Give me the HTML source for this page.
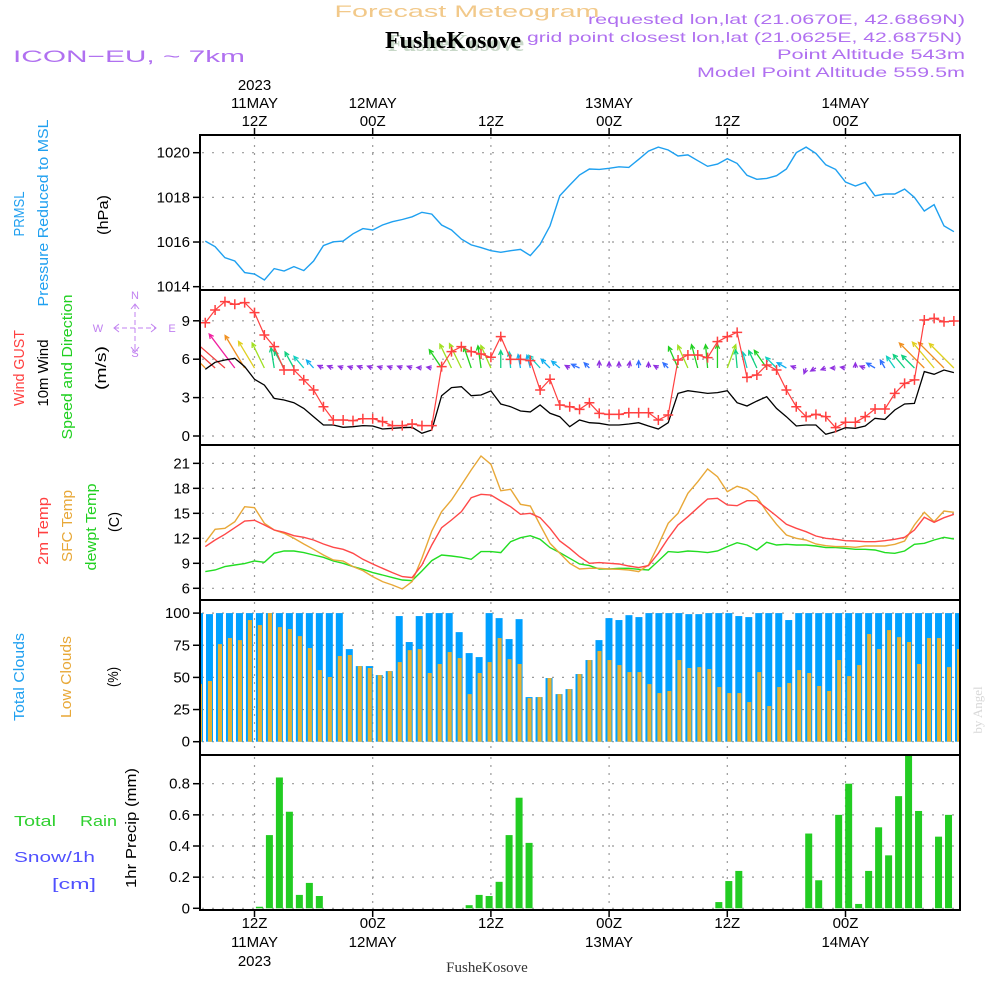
<!DOCTYPE html>
<html><head><meta charset="utf-8"><style>
html,body{margin:0;padding:0;background:#fff;}
svg{display:block;font-family:"Liberation Sans",sans-serif;}
</style></head><body>
<svg id="chart" width="1000" height="1000" viewBox="0 0 1000 1000" xmlns="http://www.w3.org/2000/svg">
<defs>
<clipPath id="clipP"><rect x="201" y="136" width="758" height="153"/></clipPath>
<clipPath id="clipW"><rect x="201" y="291" width="758" height="153"/></clipPath>
<clipPath id="clipT"><rect x="201" y="446" width="758" height="153"/></clipPath>
<clipPath id="clipC"><rect x="201" y="601" width="758" height="153"/></clipPath>
<clipPath id="clipR"><rect x="201" y="756" width="758" height="153"/></clipPath>
</defs>
<g>
<text x="467" y="17" font-size="17" fill="#f2c98a" text-anchor="middle" textLength="265" lengthAdjust="spacingAndGlyphs">Forecast Meteogram</text>
<text x="456" y="51" font-size="24" font-weight="bold" fill="#c8d8c8" text-anchor="middle" font-family="Liberation Serif,serif">FusheKosove</text>
<text x="453" y="48" font-size="24" font-weight="bold" fill="#000" text-anchor="middle" font-family="Liberation Serif,serif">FusheKosove</text>
<text x="13" y="62" font-size="17" fill="#b070f0" textLength="232" lengthAdjust="spacingAndGlyphs">ICON−EU, ~ 7km</text>
<text x="965" y="24" font-size="14" fill="#b070f0" text-anchor="end" textLength="377" lengthAdjust="spacingAndGlyphs">requested lon,lat (21.0670E, 42.6869N)</text>
<text x="962" y="42" font-size="14" fill="#b070f0" text-anchor="end" textLength="435" lengthAdjust="spacingAndGlyphs">grid point closest lon,lat (21.0625E, 42.6875N)</text>
<text x="965" y="59" font-size="14" fill="#b070f0" text-anchor="end" textLength="188" lengthAdjust="spacingAndGlyphs">Point Altitude 543m</text>
<text x="965" y="77" font-size="14" fill="#b070f0" text-anchor="end" textLength="268" lengthAdjust="spacingAndGlyphs">Model Point Altitude 559.5m</text>
</g>
<g id="axisLabels" font-size="15">
<text transform="translate(24,214) rotate(-90)" text-anchor="middle" fill="#20a0f0" textLength="45" lengthAdjust="spacingAndGlyphs">PRMSL</text>
<text transform="translate(48,213) rotate(-90)" text-anchor="middle" fill="#20a0f0" textLength="187" lengthAdjust="spacingAndGlyphs">Pressure Reduced to MSL</text>
<text transform="translate(108,215) rotate(-90)" text-anchor="middle" fill="#000" textLength="40" lengthAdjust="spacingAndGlyphs">(hPa)</text>
<text transform="translate(24,368) rotate(-90)" text-anchor="middle" fill="#ff4040" textLength="76" lengthAdjust="spacingAndGlyphs">Wind GUST</text>
<text transform="translate(48,373) rotate(-90)" text-anchor="middle" fill="#000" textLength="67" lengthAdjust="spacingAndGlyphs">10m Wind</text>
<text transform="translate(72,367) rotate(-90)" text-anchor="middle" fill="#20d020" textLength="145" lengthAdjust="spacingAndGlyphs">Speed and Direction</text>
<text transform="translate(106,368) rotate(-90)" text-anchor="middle" fill="#000" textLength="44" lengthAdjust="spacingAndGlyphs">(m/s)</text>
<text transform="translate(48,531) rotate(-90)" text-anchor="middle" fill="#ff4040" textLength="68" lengthAdjust="spacingAndGlyphs">2m Temp</text>
<text transform="translate(72,526) rotate(-90)" text-anchor="middle" fill="#e8a838" textLength="72" lengthAdjust="spacingAndGlyphs">SFC Temp</text>
<text transform="translate(96,527) rotate(-90)" text-anchor="middle" fill="#20d020" textLength="87" lengthAdjust="spacingAndGlyphs">dewpt Temp</text>
<text transform="translate(119,522) rotate(-90)" text-anchor="middle" fill="#000" textLength="20" lengthAdjust="spacingAndGlyphs">(C)</text>
<text transform="translate(24,677) rotate(-90)" text-anchor="middle" fill="#20a0f0" textLength="88" lengthAdjust="spacingAndGlyphs">Total Clouds</text>
<text transform="translate(71,677) rotate(-90)" text-anchor="middle" fill="#e8a838" textLength="82" lengthAdjust="spacingAndGlyphs">Low Clouds</text>
<text transform="translate(118,677) rotate(-90)" text-anchor="middle" fill="#000" textLength="20" lengthAdjust="spacingAndGlyphs">(%)</text>
<text transform="translate(136,828) rotate(-90)" text-anchor="middle" fill="#000" textLength="120" lengthAdjust="spacingAndGlyphs">1hr Precip (mm)</text>
<text x="14" y="826" fill="#30d030" textLength="42" lengthAdjust="spacingAndGlyphs" font-size="15">Total</text>
<text x="80" y="826" fill="#30d030" textLength="37" lengthAdjust="spacingAndGlyphs" font-size="15">Rain</text>
<text x="14" y="862" fill="#5050ff" textLength="81" lengthAdjust="spacingAndGlyphs" font-size="15">Snow/1h</text>
<text x="52" y="889" fill="#5050ff" textLength="44" lengthAdjust="spacingAndGlyphs" font-size="15">[cm]</text>
<text transform="translate(982,710) rotate(-90)" text-anchor="middle" fill="#d8d8d8" font-size="13" font-family="Liberation Serif,serif">by Angel</text>
<text x="487" y="972" text-anchor="middle" fill="#333" font-size="15" font-family="Liberation Serif,serif">FusheKosove</text>
</g>
<g fill="#c080f0" stroke="#c080f0" font-size="11">
<text x="135" y="299" text-anchor="middle" stroke="none">N</text>
<text x="135" y="357" text-anchor="middle" stroke="none">S</text>
<text x="98" y="332" text-anchor="middle" stroke="none">W</text>
<text x="172" y="332" text-anchor="middle" stroke="none">E</text>
<path d="M135 304 V352 M114 328 H156" fill="none" stroke-dasharray="5 3" stroke-width="1"/>
<path d="M131 309 L135 304 L139 309 M119 324 L114 328 L119 332 M151 324 L156 328 L151 332 M131 347 L135 352 L139 347" fill="none" stroke-width="1"/>
</g>
<g id="grid"></g>
<g id="marks"></g>
<g id="frames"></g>
<g id="ticks" font-size="15"></g>
</svg>
<script>
const pressure=[1016.04,1015.79,1015.30,1015.15,1014.63,1014.57,1014.30,1014.81,1014.70,1014.90,1014.72,1015.15,1015.84,1016.01,1016.04,1016.37,1016.60,1016.54,1016.76,1016.91,1017.01,1017.13,1017.33,1017.25,1016.76,1016.54,1016.13,1015.87,1015.75,1015.61,1015.54,1015.61,1015.67,1015.39,1015.90,1016.72,1018.07,1018.55,1019.0,
1019.27,1019.25,1019.30,1019.37,1019.34,1019.70,1020.07,1020.25,1020.12,1019.85,1019.90,1019.64,1019.39,1019.49,1019.73,1019.52,1018.99,1018.81,1018.85,1018.97,1019.27,1020.0,1020.25,1019.97,1019.46,1019.25,1018.69,1018.51,1018.67,1018.07,1018.15,1018.15,1018.37,1018.0,1017.39,1017.67,1016.72,1016.46];
const gust=[8.85,9.84,10.5,10.29,10.42,9.64,7.89,6.98,5.16,5.16,4.38,3.59,2.29,1.25,1.25,1.2,1.35,1.35,1.12,0.81,0.81,0.94,0.81,0.81,5.42,6.59,6.98,6.59,6.41,6.15,7.76,5.99,5.99,5.89,3.59,4.43,2.42,2.29,2.08,
2.6,1.77,1.69,1.69,1.82,1.82,1.82,1.25,1.64,5.94,6.33,6.33,6.12,7.37,7.76,8.1,4.58,4.77,5.55,5.16,3.59,2.29,1.51,1.69,1.51,0.65,1.07,1.07,1.51,2.11,2.11,3.33,4.11,4.38,9.06,9.19,8.93,8.98];
const wind=[5.21,5.76,5.94,6.07,5.42,4.43,3.98,2.94,2.81,2.60,2.16,1.51,0.86,0.86,0.68,0.73,0.81,0.78,0.55,0.6,0.65,0.68,0.21,0.47,3.15,3.78,3.85,3.15,3.2,3.52,2.5,2.29,1.95,1.88,2.42,1.77,1.51,0.73,1.25,
1.04,0.99,0.86,0.86,0.94,1.04,0.78,0.55,1.04,3.33,3.54,3.44,3.33,3.39,3.54,2.6,2.34,2.73,3.07,2.16,1.51,0.78,0.86,0.86,0.13,0.34,0.65,0.6,0.78,1.38,1.3,2.03,2.5,2.55,5.03,4.82,5.16,4.95];
const windDir=[315,312,311,323,329,329,334,351,330,331,320,318,
295,290,290,288,290,290,288,290,292,290,275,280,
326,334,334,341,352,336,0,355,350,345,318,315,310,300,295,
315,0,0,0,10,0,0,300,315,336,336,345,355,0,20,355,345,335,325,315,300,290,200,240,250,270,280,0,290,300,330,325,320,315,315,320,315,315];
const temp2m=[11.0,11.8,12.48,13.28,14.08,14.16,13.6,13.0,12.72,12.32,12.12,11.8,11.32,10.92,10.68,10.2,9.48,8.92,8.4,7.88,7.4,7.28,8.8,11.2,13.28,14.2,15.2,16.88,17.28,17.2,16.48,15.8,14.88,15.0,14.48,13.2,11.68,10.8,9.8,
9.0,9.08,9.0,8.92,8.68,8.48,8.72,10.2,12.0,13.6,14.6,15.68,16.72,16.8,16.0,15.92,16.52,16.52,15.6,14.68,13.68,13.2,12.8,12.28,12.0,11.88,11.72,11.68,11.6,11.6,11.72,11.88,12.12,13.0,14.52,13.92,14.48,14.88];
const tempSfc=[11.52,13.08,13.2,14.0,15.8,15.68,13.8,13.0,12.6,12.0,11.32,10.68,10.0,9.4,9.28,8.6,8.12,7.4,6.8,6.4,5.92,6.8,9.6,12.88,15.2,16.6,18.4,20.2,21.88,20.88,17.72,17.88,16.08,15.88,13.6,11.4,10.2,9.0,8.32,
8.4,8.4,8.32,8.28,8.2,8.0,8.8,11.2,13.8,15.0,17.4,18.8,20.32,19.4,17.6,18.24,17.88,17.0,15.2,13.68,12.4,12.0,11.8,11.32,11.12,11.0,11.0,10.92,11.08,11.08,11.08,11.28,11.68,13.6,15.12,14.0,15.28,15.12];
const dewpt=[8.0,8.2,8.6,8.8,8.96,9.28,9.12,10.2,10.48,10.48,10.28,10.0,9.72,9.28,9.0,8.6,8.28,7.88,7.6,7.28,7.0,6.92,8.08,9.32,10.0,9.88,9.72,9.48,10.4,10.4,10.28,11.6,12.08,12.32,11.88,10.88,10.28,9.6,8.92,
8.72,8.32,8.32,8.4,8.4,8.28,8.2,9.28,10.4,10.32,10.48,10.4,10.28,10.48,11.0,11.48,11.2,10.6,11.52,11.2,11.28,11.2,11.2,11.08,10.88,10.88,10.8,10.68,10.68,10.6,10.28,10.2,10.48,11.28,11.4,11.8,12.12,11.92];
const totalClouds=[100,99.2,100,100,100,100,100,100,100,100,100,100,100,100,100,72.0,58.8,58.8,51.8,54.9,97.7,77.5,97.7,100,100,100,85.2,68.9,65.8,100,96.1,79.8,95.3,34.7,34.7,49.5,37.0,40.9,52.6,
63.5,79.0,96.1,94.6,98.4,96.9,100,100,100,100,99.2,99.2,100,100,100,97.7,96.9,100,100,100,94.6,100,100,100,100,100,100,100,100,100,100,100,100,100,100,100,100,100];
const lowClouds=[44.8,47.2,75.9,80.6,79.0,94.6,90.7,100,89.1,87.6,82.1,72.8,55.7,50.3,66.6,67.4,58.8,57.3,51.8,54.9,61.9,71.2,72.0,53.4,60.4,69.7,65.0,37.0,53.4,61.9,80.6,64.2,60.4,33.9,34.7,49.5,37.0,40.9,52.6,
63.5,70.5,63.5,59.6,54.1,54.1,44.8,37.8,39.4,63.5,57.3,58.0,56.5,42.5,37.8,37.8,30.8,54.1,27.7,42.5,45.6,55.7,53.4,43.3,39.4,63.5,51.0,59.6,83.7,72.0,86.8,81.3,77.5,60.4,80.6,80.6,58.0,72.0];
const precip=[0,0,0,0,0,0,0.01,0.47,0.84,0.62,0.086,0.163,0.079,0,0,0,0,0,0,0,0,0,0,0,0,0,0,0.02,0.086,0.079,0.17,0.47,0.71,0.42,0,0,0,0,0,
0,0,0,0,0,0,0,0,0,0,0,0,0,0.04,0.175,0.24,0,0,0,0,0,0,0.48,0.18,0,0.6,0.80,0.028,0.24,0.52,0.34,0.72,0.98,0.625,0,0.46,0.6,0];
const pTicks=[1014,1016,1018,1020];
const wTicks=[0,3,6,9];
const tTicks=[6,9,12,15,18,21];
const cTicks=[0,25,50,75,100];
const rTicks=[0,0.2,0.4,0.6,0.8];
const timeMarks=[0,12,24,36,48,60];
const topLabels=[["2023","11MAY","12Z"],["","12MAY","00Z"],["","","12Z"],["","13MAY","00Z"],["","","12Z"],["","14MAY","00Z"]];
const botLabels=[["12Z","11MAY","2023"],["00Z","12MAY",""],["12Z","",""],["00Z","13MAY",""],["12Z","",""],["00Z","14MAY",""]];
const T0=-5;

const NS='http://www.w3.org/2000/svg';
const xT=t=>254.5+t*9.85;
const xBar=i=>196+i*9.987;
const yP=v=>152.7+(1020-v)*22.33;
const yW=v=>436-v*12.8;
const yT=v=>588.3-(v-6)*8.33;
const yC=v=>741.7-v*1.286;
const yR=v=>908.3-v*155.75;
function mk(tag,attrs,parent){const e=document.createElementNS(NS,tag);for(const k in attrs)e.setAttribute(k,attrs[k]);parent.appendChild(e);return e;}
const grid=document.getElementById('grid'),marks=document.getElementById('marks'),frames=document.getElementById('frames'),ticks=document.getElementById('ticks');
const panels=[[135,290,pTicks,yP,v=>String(v)],[290,445,wTicks,yW,v=>String(v)],[445,600,tTicks,yT,v=>String(v)],[600,755,cTicks,yC,v=>String(v)],[755,910,rTicks,yR,v=>v===0?'0':v.toFixed(1)]];
panels.forEach((p,pi)=>{
  p[2].forEach(v=>{const y=p[3](v);
    const gl=mk('line',{x1:202,x2:958,y1:y,y2:y,stroke:'#999','stroke-width':1.2,'stroke-dasharray':'2 8'},grid);
    
    
    const tk=mk('line',{x1:193,x2:200,y1:y,y2:y,stroke:'#000','stroke-width':1.5},ticks);
    
    
    const tl=mk('text',{x:190,y:y+5,'text-anchor':'end',fill:'#000'},ticks);
    
    
    tl.textContent=p[4](v);
  });
  timeMarks.forEach(t=>{const x=xT(t);
    const vg=mk('line',{x1:x,x2:x,y1:p[0]+2,y2:p[1]-2,stroke:'#999','stroke-width':1.2,'stroke-dasharray':'2 6'},grid);
    
    
  });
  const fr=mk('rect',{x:200,y:p[0],width:760,height:p[1]-p[0],fill:'none',stroke:'#000','stroke-width':2},frames);
  
  
});
timeMarks.forEach((t,i)=>{const x=xT(t);
  const a=mk('line',{x1:x,x2:x,y1:128,y2:135,stroke:'#000','stroke-width':1.5},ticks);
  
  
  const b=mk('line',{x1:x,x2:x,y1:910,y2:917,stroke:'#000','stroke-width':1.5},ticks);
  
  
  [90,108,126].forEach((y,k)=>{if(!topLabels[i][k])return;const e=mk('text',{x:x,y:y,'text-anchor':'middle',fill:'#000'},ticks);
    
    
    e.textContent=topLabels[i][k];});
  [928,947,966].forEach((y,k)=>{if(!botLabels[i][k])return;const e=mk('text',{x:x,y:y,'text-anchor':'middle',fill:'#000'},ticks);
    
    
    e.textContent=botLabels[i][k];});
});
function line(arr,ys,color,clip,name,w){
  const d=arr.map((v,i)=>(i?'L':'M')+xT(i+T0).toFixed(1)+' '+ys(v).toFixed(1)).join(' ');
  const e=mk('path',{d:d,fill:'none',stroke:color,'stroke-width':w||1.4,'clip-path':'url(#'+clip+')'},marks);
  
  
}
line(pressure,yP,'#1ea0f0','clipP','pressure-line');
const gC=mk('g',{'clip-path':'url(#clipC)'},marks);
totalClouds.forEach((v,i)=>{const x=xBar(i);
  const b=mk('rect',{x:x,y:yC(v),width:7,height:yC(0)-yC(v),fill:'#00a0ff'},gC);
  
  
  const l=mk('rect',{x:x+2,y:yC(lowClouds[i]),width:4,height:yC(0)-yC(lowClouds[i]),fill:'#e8b030'},gC);
  
  
});
const gR=mk('g',{'clip-path':'url(#clipR)'},marks);
precip.forEach((v,i)=>{if(v<=0)return;const x=xBar(i);
  const b=mk('rect',{x:x,y:yR(v),width:7,height:yR(0)-yR(v),fill:'#22cc22'},gR);
  
  
});
line(dewpt,yT,'#22dd22','clipT','dewpoint-line');
line(tempSfc,yT,'#e8a838','clipT','sfc-temp-line');
line(temp2m,yT,'#ff4848','clipT','t2m-line');
function spdColor(s){
  if(s<1)return '#9030e0'; if(s<1.5)return '#3070ff'; if(s<2)return '#10b0f0'; if(s<2.5)return '#10d0c0';
  if(s<3)return '#10d080'; if(s<3.5)return '#20d020'; if(s<4)return '#a0e020'; if(s<5)return '#e0d020';
  if(s<5.5)return '#f09020'; if(s<6)return '#f04040'; return '#f020a0';
}
const gW=mk('g',{'clip-path':'url(#clipW)'},marks);
windDir.forEach((dir,i)=>{const s=wind[i];const x0=xT(i+T0),y0=368;
  const L=Math.max(5,s*7);const r=dir*Math.PI/180;
  const x1=x0+L*Math.sin(r),y1=y0-L*Math.cos(r);
  const a1=r+Math.PI-0.45,a2=r+Math.PI+0.45,h=5;
  const d='M'+x0+' '+y0+' L'+x1+' '+y1+' M'+(x1+h*Math.sin(a1))+' '+(y1-h*Math.cos(a1))+' L'+x1+' '+y1+' L'+(x1+h*Math.sin(a2))+' '+(y1-h*Math.cos(a2));
  const e=mk('path',{d:d,fill:'none',stroke:spdColor(s),'stroke-width':1.3},gW);
  
  
});
line(wind,yW,'#000','clipW','wind-speed-line',1.3);
line(gust,yW,'#ff4040','clipW','gust-line',1.2);
gust.forEach((v,i)=>{const x=xT(i+T0),y=yW(v);
  const e=mk('path',{d:'M'+(x-5)+' '+y+' H'+(x+5)+' M'+x+' '+(y-5)+' V'+(y+5),stroke:'#ff4040','stroke-width':1.5,fill:'none','clip-path':'url(#clipW)'},marks);
  
  
});
</script>
</body></html>
